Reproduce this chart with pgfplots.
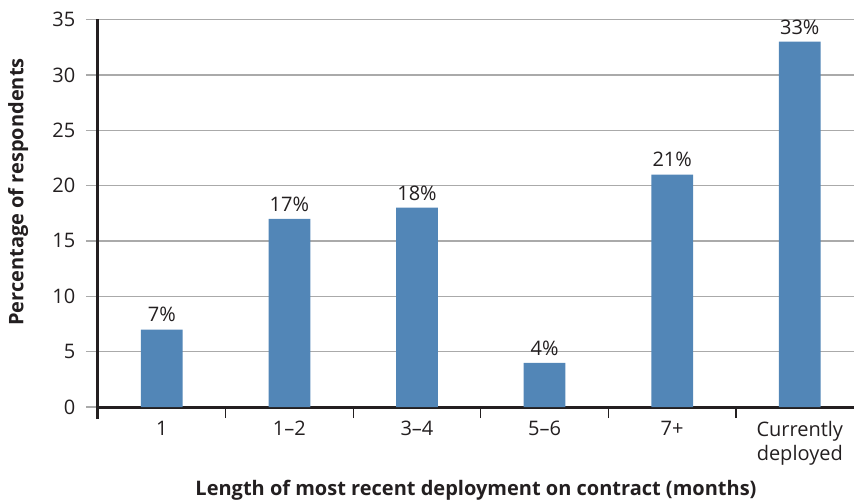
\documentclass[border=0pt]{standalone}
\usepackage{fontspec}
\setmainfont{Open Sans}
\usepackage{pgfplots}
\pgfplotsset{compat=1.18}
\definecolor{barblue}{RGB}{82,134,183}
\definecolor{txt}{RGB}{35,31,32}
\definecolor{gridgray}{RGB}{170,170,170}
\begin{document}
\begin{tikzpicture}
\path[use as bounding box] (-49pt,-41.5pt) rectangle (378pt,209.5pt);
\begin{axis}[
  at={(0,0)}, anchor=south west,
  scale only axis, width=378pt, height=199.75pt,
  xmin=-0.5, xmax=5.425, ymin=-1.08, ymax=35,
  axis x line*=middle, axis y line*=left,
  axis line style={line width=1.5pt, color=txt, -},
  ybar, bar width=0.327,
  ytick={0,5,...,35},
  ymajorgrids, grid style={gridgray, line width=0.7pt},
  tick align=outside,
  major tick length=6pt,
  minor tick length=5.5pt,
  every major y tick/.style={gridgray, line width=0.7pt},
  every major x tick/.style={draw=none},
  every minor x tick/.style={txt, line width=0.6pt},
  xtick={0,1,2,3,4,5},
  minor xtick={0.5,1.5,2.5,3.5,4.5},
  xticklabels={1,1--2,3--4,5--6,7+,{Currently\\deployed}},
  ticklabel style={font=\fontsize{10}{12}\selectfont, text=txt},
  xticklabel style={align=center, inner sep=1pt},
  yticklabel style={inner sep=0pt, xshift=-5.2pt},
  /pgf/number format/assume math mode=true,
  xlabel={Length of most recent deployment on contract (months)},
  ylabel={Percentage of respondents},
  label style={font=\bfseries\fontsize{10}{12}\selectfont, text=txt},
  xlabel style={at={(axis description cs:0.5,-0.1777)}, anchor=center},
  ylabel style={at={(axis description cs:-0.1058,0.568)}, anchor=center},
  nodes near coords={\pgfmathprintnumber{\pgfplotspointmeta}\%},
  nodes near coords style={font=\fontsize{10}{12}\selectfont, text=txt, inner sep=1pt, yshift=2.5pt},
  clip=false,
]
\addplot[fill=barblue, draw=none] coordinates {(0,7) (1,17) (2,18) (3,4) (4,21) (5,33)};
\end{axis}
\end{tikzpicture}
\end{document}
